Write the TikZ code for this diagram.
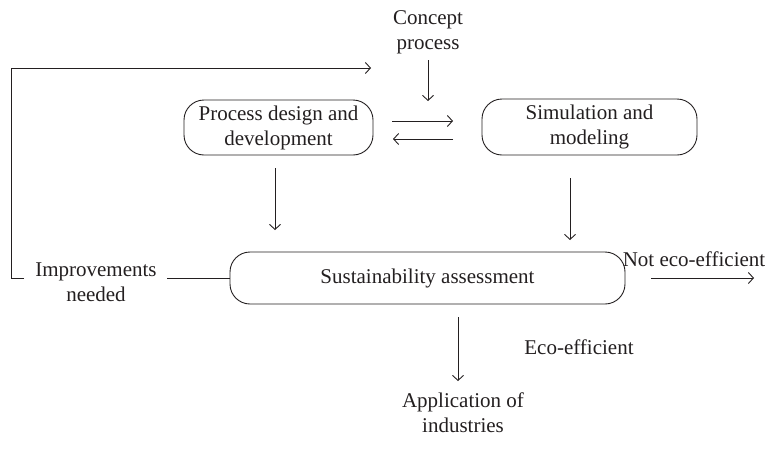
\documentclass[tikz,border=0pt]{standalone}
\usepackage{fontspec}
\setmainfont{Liberation Serif}
\usetikzlibrary{arrows.meta}
\definecolor{ink}{HTML}{231F20}
\begin{document}
\begin{tikzpicture}[x=1pt,y=-1pt,
  every node/.style={font=\fontsize{21}{25}\selectfont, text=ink},
  lbl/.style={align=center, inner sep=0pt},
  rbox/.style={draw=ink, line width=0.9pt, rounded corners=20pt, align=center, inner sep=0pt},
  arr/.style={draw=ink, line width=0.9pt, -{Straight Barb[length=5pt,width=11pt,line width=0.9pt]}},
  ln/.style={draw=ink, line width=0.9pt}]
\useasboundingbox (0,0) rectangle (768,453);
\node[lbl] (concept) at (428,32) {Concept\\process};
\node[rbox, minimum width=189pt, minimum height=55pt] (pd) at (278.5,127.5) {Process design and\\development};
\node[rbox, minimum width=215pt, minimum height=56pt] (sim) at (589.5,127) {Simulation and\\modeling};
\node[rbox, minimum width=395pt, minimum height=52pt] (sa) at (427.5,278) {Sustainability assessment};
\node[lbl] (improve) at (96,282) {Improvements\\needed};
\node[lbl] (noteco) at (694,259) {Not eco-efficient};
\node[lbl] (eco) at (579,347) {Eco-efficient};
\node[lbl] (app) at (463,413) {Application of\\industries};
% free ends
\coordinate (c1) at (428,60);
\coordinate (c2) at (428,101);
\coordinate (r1) at (392,121);
\coordinate (r2) at (453,121);
\coordinate (l1) at (453,139);
\coordinate (l2) at (393,139);
\coordinate (pd1) at (275,168);
\coordinate (pd2) at (275,230);
\coordinate (sm1) at (570,178);
\coordinate (sm2) at (570,240);
\coordinate (sa1) at (458,317);
\coordinate (sa2) at (458,381);
\coordinate (ne1) at (651,278);
\coordinate (ne2) at (754,278);
\coordinate (im1) at (167,278);
\coordinate (fb0) at (24,278);
\coordinate (fb1) at (11,278);
\coordinate (fb2) at (11,68);
\coordinate (fb3) at (371,68);
\draw[arr] (c1) -- (c2);
\draw[arr] (r1) -- (r2);
\draw[arr] (l1) -- (l2);
\draw[arr] (pd1) -- (pd2);
\draw[arr] (sm1) -- (sm2);
\draw[arr] (sa1) -- (sa2);
\draw[arr] (ne1) -- (ne2);
\draw[ln] (im1) -- (sa.west);
\draw[arr] (fb0) -- (fb1) -- (fb2) -- (fb3);
\end{tikzpicture}
\end{document}
